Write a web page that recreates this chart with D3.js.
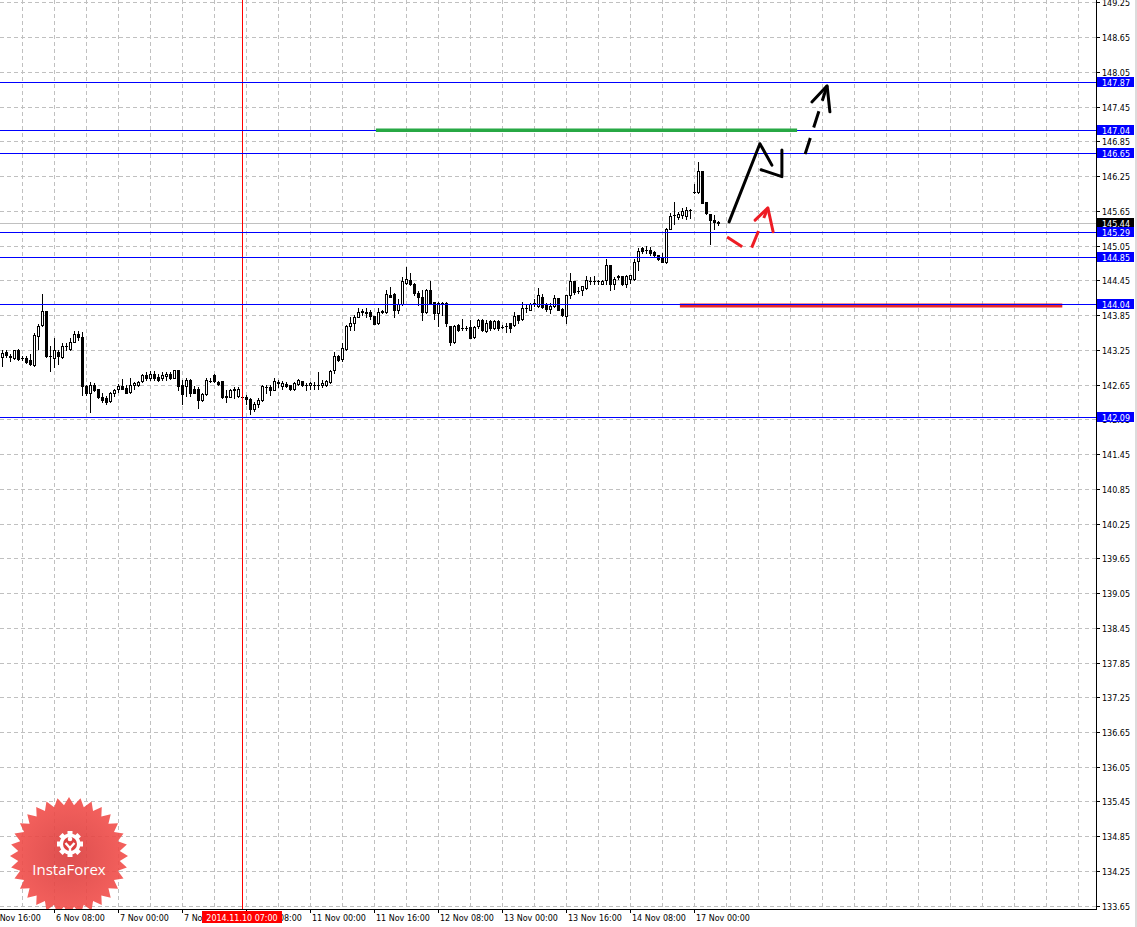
<!DOCTYPE html>
<html>
<head>
<meta charset="utf-8">
<script src="https://cdnjs.cloudflare.com/ajax/libs/d3/7.8.5/d3.min.js"></script>
<style>
  html, body { margin: 0; padding: 0; background: #fff; overflow: hidden; }
  svg { display: block; font-family: "DejaVu Sans", sans-serif; font-size: 8px; }
</style>
</head>
<body>
<svg id="chart" width="1137" height="927"></svg>
<script>
// H1 bars, first bar = 5 Nov 19:00
const opens = [
  143.12,143.22,143.14,143.11,143.24,143.11,143.11,143.08,142.99,143.49,
  143.68,143.92,143.14,143.11,143.22,143.12,143.31,143.27,143.39,143.52,
  143.48,142.62,142.51,142.64,142.57,142.44,142.41,142.36,142.51,142.57,
  142.62,142.59,142.53,142.64,142.65,142.71,142.81,142.76,142.84,142.78,
  142.76,142.79,142.84,142.77,142.90,142.64,142.62,142.73,142.57,142.58,
  142.38,142.48,142.72,142.82,142.70,142.72,142.46,142.44,142.55,142.46,
  142.44,142.43,142.40,142.22,142.31,142.39,142.60,142.60,142.56,142.70,
  142.62,142.66,142.64,142.57,142.66,142.71,142.65,142.64,142.65,142.64,
  142.64,142.64,142.69,142.90,143.14,143.09,143.26,143.67,143.71,143.82,
  143.92,143.91,143.91,143.83,143.71,143.92,143.91,144.20,144.21,143.94,
  144.04,144.40,144.46,144.38,144.23,144.16,143.91,144.29,144.07,143.89,
  144.06,144.05,143.66,143.38,143.68,143.63,143.63,143.64,143.47,143.66,
  143.76,143.57,143.74,143.62,143.74,143.64,143.66,143.71,143.68,143.85,
  143.78,143.97,143.94,144.06,144.01,144.16,144.02,143.95,144.00,144.15,
  143.95,143.84,144.19,144.43,144.27,144.28,144.31,144.44,144.43,144.43,
  144.39,144.45,144.72,144.39,144.50,144.52,144.38,144.48,144.47,144.78,
  145.00,144.97,144.98,144.94,144.88,144.84,144.77,145.34,145.57,145.55,
  145.57,145.56,145.67,145.97,145.97,146.33,145.80,145.59,145.50,145.45
];
const highs = [
  143.24,143.25,143.17,143.25,143.26,143.15,143.14,143.17,143.54,143.70,
  144.22,143.92,143.31,143.45,143.25,143.37,143.37,143.45,143.57,143.58,
  143.56,142.65,142.69,142.67,142.57,142.50,142.46,142.53,142.57,142.66,
  142.74,142.64,142.76,142.70,142.72,142.84,142.86,142.89,142.89,142.84,
  142.87,142.87,142.87,142.90,142.90,142.73,142.76,142.74,142.62,142.61,
  142.50,142.76,142.76,142.84,142.71,142.72,142.56,142.57,142.61,142.61,
  142.46,142.47,142.41,142.35,142.42,142.65,142.65,142.65,142.77,142.73,
  142.71,142.70,142.65,142.69,142.75,142.72,142.68,142.69,142.69,142.87,
  142.73,142.73,142.91,143.21,143.16,143.36,143.68,143.81,143.85,143.97,
  143.95,143.98,143.94,143.84,143.97,143.94,144.29,144.33,144.23,144.12,
  144.50,144.68,144.57,144.40,144.27,144.29,144.30,144.43,144.08,144.08,
  144.08,144.08,143.67,143.68,143.70,143.78,143.66,143.77,143.67,143.79,
  143.78,143.77,143.76,143.77,143.76,143.68,143.71,143.72,143.91,143.86,
  144.08,144.02,144.06,144.12,144.31,144.21,144.05,144.06,144.20,144.15,
  143.97,144.20,144.58,144.43,144.33,144.36,144.53,144.50,144.52,144.46,
  144.45,144.82,144.72,144.50,144.54,144.53,144.54,144.55,144.81,145.00,
  145.03,145.04,145.03,144.95,144.89,144.92,145.36,145.61,145.81,145.63,
  145.70,145.72,145.68,146.12,146.50,146.33,145.80,145.59,145.58,145.48
];
const lows = [
  142.97,143.12,143.05,143.10,143.08,143.08,143.02,142.99,142.97,143.27,
  143.67,143.12,142.89,142.96,143.00,143.11,143.25,143.25,143.38,143.42,
  142.47,142.47,142.17,142.54,142.42,142.35,142.32,142.35,142.46,142.53,
  142.57,142.50,142.51,142.58,142.63,142.70,142.73,142.73,142.73,142.72,
  142.73,142.73,142.74,142.76,142.56,142.31,142.46,142.46,142.50,142.24,
  142.36,142.47,142.69,142.70,142.65,142.41,142.35,142.43,142.42,142.43,
  142.43,142.32,142.15,142.19,142.27,142.36,142.50,142.47,142.55,142.60,
  142.57,142.61,142.56,142.56,142.65,142.62,142.56,142.58,142.58,142.58,
  142.61,142.63,142.68,142.85,143.05,143.06,143.25,143.60,143.59,143.81,
  143.85,143.81,143.79,143.69,143.70,143.89,143.89,144.16,143.81,143.89,
  144.02,144.39,144.37,144.19,144.02,143.76,143.89,144.04,143.79,143.66,
  143.85,143.66,143.33,143.37,143.57,143.59,143.60,143.45,143.45,143.63,
  143.57,143.56,143.60,143.61,143.59,143.63,143.56,143.55,143.67,143.72,
  143.77,143.90,143.93,144.01,143.99,143.97,143.92,143.89,143.99,143.93,
  143.84,143.72,144.15,144.22,144.23,144.20,144.30,144.39,144.38,144.38,
  144.38,144.38,144.29,144.30,144.47,144.37,144.33,144.40,144.46,144.63,
  144.92,144.92,144.89,144.86,144.80,144.77,144.75,145.33,145.42,145.51,
  145.52,145.51,145.53,145.96,145.96,145.78,145.59,145.08,145.33,145.40
];
const closes = [
  143.20,143.16,143.12,143.24,143.10,143.11,143.04,143.00,143.51,143.67,
  143.92,143.14,143.14,143.24,143.14,143.32,143.31,143.39,143.53,143.47,
  142.62,142.50,142.64,142.56,142.43,142.38,142.35,142.51,142.56,142.63,
  142.58,142.51,142.64,142.67,142.70,142.81,142.76,142.84,142.76,142.73,
  142.81,142.84,142.77,142.90,142.63,142.48,142.73,142.50,142.51,142.38,
  142.48,142.73,142.72,142.71,142.66,142.44,142.43,142.55,142.58,142.58,
  142.44,142.40,142.22,142.31,142.38,142.62,142.60,142.56,142.71,142.68,
  142.68,142.62,142.57,142.68,142.73,142.64,142.65,142.68,142.65,142.64,
  142.68,142.72,142.88,143.15,143.07,143.28,143.67,143.72,143.82,143.91,
  143.90,143.89,143.83,143.70,143.91,143.90,144.22,144.17,143.94,144.04,
  144.43,144.47,144.38,144.23,144.16,143.91,144.29,144.06,143.89,144.06,
  144.06,143.72,143.38,143.67,143.60,143.63,143.63,143.46,143.64,143.77,
  143.59,143.72,143.63,143.75,143.62,143.64,143.66,143.63,143.84,143.76,
  143.97,143.97,144.04,144.06,144.19,143.99,143.95,144.01,144.15,143.94,
  143.86,144.19,144.43,144.25,144.27,144.35,144.46,144.44,144.43,144.43,
  144.44,144.72,144.39,144.48,144.53,144.38,144.53,144.54,144.76,144.96,
  144.95,144.97,144.92,144.88,144.81,144.77,145.34,145.56,145.57,145.59,
  145.64,145.66,145.67,145.97,146.33,145.79,145.61,145.50,145.46,145.44
];

// price scale ticks
const priceTicks = [133.65, 134.25, 134.85, 135.45, 136.05, 136.65, 137.25, 137.85, 138.45,
  139.05, 139.65, 140.25, 140.85, 141.45, 142.05, 142.65, 143.25, 143.85, 144.45,
  145.05, 145.65, 146.25, 146.85, 147.45, 148.05, 148.65, 149.25];

// time scale labels (bar index of each label)
const timeLabels = ["5 Nov 16:00", "6 Nov 08:00", "7 Nov 00:00", "7 Nov 16:00", "10 Nov 08:00",
  "11 Nov 00:00", "11 Nov 16:00", "12 Nov 08:00", "13 Nov 00:00", "13 Nov 16:00",
  "14 Nov 08:00", "17 Nov 00:00"];
const timeLabelBars = [-3, 13, 29, 45, 61, 77, 93, 109, 125, 141, 157, 173];

// horizontal levels
const levelPrices = [147.87, 147.04, 146.65, 145.29, 144.85, 144.04, 142.09];
const bidPrice = 145.44;
const markerBar = 60;
const markerLabel = "2014.11.10 07:00";

// drawn objects, in [bar, price]
const greenSegment = [[93.4, 147.04], [198.7, 147.04]];
const redSegment = [[169.4, 144.015], [265, 144.015]];
const blackArrow = [[181.7, 145.46], [189.4, 146.81], [192.4, 146.44]];
const blackArrowHead = [[189.7, 146.36], [194.9, 146.24], [194.9, 146.70]];
const dashedArrow = [[200.7, 146.63], [206.2, 147.81]];
const dashedArrowHead = [[202.4, 147.53], [206.2, 147.81], [206.9, 147.36]];
const redArrow = [[181.2, 145.20], [186.9, 144.94], [191.4, 145.70]];
const redArrowHead = [[188.2, 145.49], [191.4, 145.70], [192.7, 145.29]];

(function() {
  const plotW = 1096, plotH = 909;
  const svg = d3.select('#chart');

  const x = d3.scaleLinear().domain([0, 273]).range([2.3, 1094.3]);
  const y = d3.scaleLinear().domain([133.65, 149.25]).range([905.7, 2.4]);
  const px = v => Math.round(x(v));
  const py = v => Math.round(y(v));

  svg.append('defs').append('clipPath').attr('id', 'plot-clip')
    .append('rect').attr('width', plotW).attr('height', plotH);

  const plot = svg.append('g').attr('clip-path', 'url(#plot-clip)');

  // grid
  const grid = plot.append('g').attr('shape-rendering', 'crispEdges')
    .attr('stroke', '#c0c0c0').attr('stroke-dasharray', '4,3');
  grid.selectAll('.hgrid').data(priceTicks).enter().append('line')
    .attr('x1', 0).attr('x2', plotW)
    .attr('y1', d => py(d) + 0.5).attr('y2', d => py(d) + 0.5);
  grid.selectAll('.vgrid').data(d3.range(-3, 274, 8)).enter().append('line')
    .attr('x1', d => px(d) + 0.5).attr('x2', d => px(d) + 0.5)
    .attr('y1', 0).attr('y2', plotH);

  // logo
  const logo = plot.append('g').attr('transform', 'translate(69,856)');
  const grad = svg.select('defs').append('radialGradient').attr('id', 'logo-grad');
  grad.append('stop').attr('offset', '0%').attr('stop-color', '#d93b3b');
  grad.append('stop').attr('offset', '100%').attr('stop-color', '#f34f4b');
  const spikes = 32;
  const star = d3.range(spikes * 2).map(k => {
    const r = k % 2 ? 51 : 59;
    const a = k * Math.PI / spikes;
    return [Math.sin(a) * r, -Math.cos(a) * r];
  });
  logo.append('path').attr('d', 'M' + star.join('L') + 'Z')
    .attr('fill', 'url(#logo-grad)').attr('opacity', 0.9);
  const gear = logo.append('g').attr('transform', 'translate(1,-12)');
  d3.range(8).forEach(k => {
    gear.append('rect').attr('x', -2.5).attr('y', -13).attr('width', 5).attr('height', 5)
      .attr('fill', '#fff').attr('transform', `rotate(${k * 45})`);
  });
  gear.append('circle').attr('r', 10.5).attr('fill', '#fff');
  gear.append('circle').attr('r', 7).attr('fill', '#dd4040');
  gear.append('circle').attr('cy', -5).attr('r', 2.3).attr('fill', '#fff');
  gear.append('path').attr('d', 'M-4.5,-1 L0,4 L4.5,-1 M0,4 L0,12')
    .attr('fill', 'none').attr('stroke', '#fff').attr('stroke-width', 2.4);
  logo.append('text').attr('y', 19).attr('text-anchor', 'middle')
    .style('font-family', '"Open Sans", sans-serif').style('font-size', '15px')
    .attr('fill', '#fff').text('InstaForex');

  // bid line
  plot.append('line').attr('shape-rendering', 'crispEdges')
    .attr('x1', 0).attr('x2', plotW)
    .attr('y1', py(bidPrice) + 0.5).attr('y2', py(bidPrice) + 0.5)
    .attr('stroke', '#c0c0c0');

  // candles
  const bars = d3.range(opens.length);
  const candles = plot.append('g').attr('shape-rendering', 'crispEdges');
  candles.selectAll('.wick').data(bars).enter().append('line')
    .attr('x1', i => px(i) + 0.5).attr('x2', i => px(i) + 0.5)
    .attr('y1', i => py(highs[i])).attr('y2', i => py(lows[i]) + 1)
    .attr('stroke', '#000');
  bars.forEach(i => {
    const top = py(Math.max(opens[i], closes[i]));
    const bot = py(Math.min(opens[i], closes[i]));
    const xc = px(i);
    if (bot - top < 1) {
      candles.append('rect').attr('x', xc - 1).attr('y', top).attr('width', 3).attr('height', 1).attr('fill', '#000');
    } else if (closes[i] < opens[i]) {
      candles.append('rect').attr('x', xc - 1).attr('y', top).attr('width', 3).attr('height', bot - top + 1).attr('fill', '#000');
    } else {
      candles.append('rect').attr('x', xc - 0.5).attr('y', top + 0.5).attr('width', 2).attr('height', bot - top)
        .attr('fill', '#fff').attr('stroke', '#000');
    }
  });

  // marker line
  plot.append('line').attr('shape-rendering', 'crispEdges')
    .attr('x1', px(markerBar) + 0.5).attr('x2', px(markerBar) + 0.5)
    .attr('y1', 0).attr('y2', plotH).attr('stroke', '#ff0000');

  // red and green segments
  const seg = d3.line().x(d => x(d[0])).y(d => y(d[1]));
  plot.append('path').attr('d', seg(redSegment)).attr('stroke', '#e8242c').attr('stroke-width', 4);

  plot.selectAll('.level').data(levelPrices).enter().append('line')
    .attr('shape-rendering', 'crispEdges')
    .attr('x1', 0).attr('x2', plotW)
    .attr('y1', d => py(d) + 0.5).attr('y2', d => py(d) + 0.5)
    .attr('stroke', '#0000ff');

  plot.append('path').attr('d', seg(greenSegment)).attr('stroke', '#27a844').attr('stroke-width', 3.5);

  // arrows
  const arrows = plot.append('g').attr('fill', 'none').attr('stroke-width', 3)
    .attr('stroke-linecap', 'round').attr('stroke-linejoin', 'round');
  arrows.append('path').attr('d', seg(blackArrow)).attr('stroke', '#000');
  arrows.append('path').attr('d', seg(blackArrowHead)).attr('stroke', '#000');
  arrows.append('path').attr('d', seg(dashedArrow)).attr('stroke', '#000')
    .attr('stroke-dasharray', '17,11').attr('stroke-linecap', 'butt');
  arrows.append('path').attr('d', seg(dashedArrowHead)).attr('stroke', '#000');
  arrows.append('path').attr('d', seg(redArrow)).attr('stroke', '#ee1c24')
    .attr('stroke-dasharray', '18,14').attr('stroke-linecap', 'butt');
  arrows.append('path').attr('d', seg(redArrowHead)).attr('stroke', '#ee1c24');

  // axes
  const axis = svg.append('g').attr('shape-rendering', 'crispEdges');
  axis.append('line').attr('x1', plotW + 0.5).attr('x2', plotW + 0.5).attr('y1', 0).attr('y2', plotH + 1).attr('stroke', '#000');
  axis.append('line').attr('x1', 0).attr('x2', plotW + 1).attr('y1', plotH + 0.5).attr('y2', plotH + 0.5).attr('stroke', '#000');
  svg.append('rect').attr('x', 1135).attr('y', 0).attr('width', 2).attr('height', 927).attr('fill', '#dcdcdc');

  const priceAxis = svg.append('g');
  priceAxis.selectAll('line').data(priceTicks).enter().append('line')
    .attr('shape-rendering', 'crispEdges')
    .attr('x1', plotW).attr('x2', plotW + 4)
    .attr('y1', d => py(d) + 0.5).attr('y2', d => py(d) + 0.5).attr('stroke', '#000');
  priceAxis.selectAll('text').data(priceTicks).enter().append('text')
    .attr('x', plotW + 6).attr('y', d => py(d) + 3.5)
    .attr('fill', '#000').text(d => d.toFixed(2));

  // boxed price labels
  const boxes = [{ p: bidPrice, c: '#000' }].concat(levelPrices.map(p => ({ p: p, c: '#0000ff' })));
  const boxG = svg.append('g').selectAll('g').data(boxes).enter().append('g');
  boxG.append('rect').attr('x', plotW + 1).attr('y', d => py(d.p) - 5)
    .attr('width', 37).attr('height', 10).attr('fill', d => d.c);
  boxG.append('text').attr('x', plotW + 6).attr('y', d => py(d.p) + 3.5)
    .attr('fill', '#fff').text(d => d.p.toFixed(2));

  // time axis
  const timeAxis = svg.append('g');
  timeAxis.selectAll('line').data(timeLabelBars).enter().append('line')
    .attr('shape-rendering', 'crispEdges')
    .attr('x1', d => px(d) + 0.5).attr('x2', d => px(d) + 0.5)
    .attr('y1', plotH).attr('y2', plotH + 4).attr('stroke', '#000');
  timeAxis.selectAll('text').data(timeLabelBars).enter().append('text')
    .attr('x', d => px(d) + 2).attr('y', plotH + 11.5)
    .attr('fill', '#000').text((d, i) => timeLabels[i]);

  const mx = px(markerBar);
  svg.append('rect').attr('x', mx - 40).attr('y', plotH + 2).attr('width', 80).attr('height', 12).attr('fill', '#ff0000');
  svg.append('text').attr('x', mx).attr('y', plotH + 11.5).attr('text-anchor', 'middle')
    .attr('fill', '#fff').text(markerLabel);
})();
</script>
</body>
</html>
